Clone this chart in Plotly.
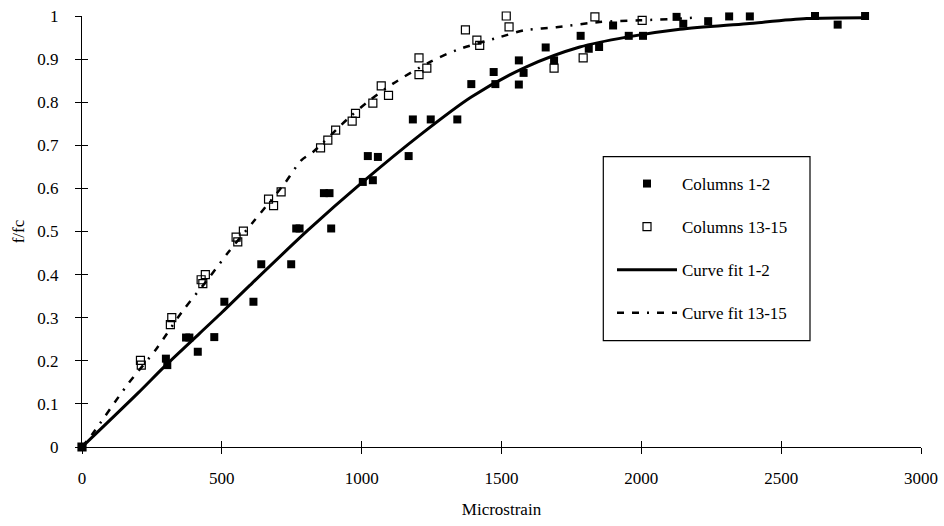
import plotly.graph_objects as go

# Columns 1-2 (filled squares)
c12_x = [0, 300, 305, 372, 384, 414, 473, 509, 613, 641, 748, 766, 778, 891, 865, 885,
         1004, 1040, 1022, 1058, 1168, 1183, 1247, 1342, 1392, 1472, 1478, 1562, 1562,
         1579, 1658, 1688, 1783, 1812, 1849, 1899, 1955, 2006, 2126, 2150, 2239, 2266,
         2314, 2388, 2442, 2475, 2621, 2702, 2800]
c12_y = [0, 0.205, 0.19, 0.254, 0.254, 0.221, 0.255, 0.337, 0.337, 0.424, 0.424, 0.507,
         0.507, 0.507, 0.589, 0.589, 0.615, 0.619, 0.675, 0.673, 0.675, 0.760, 0.760,
         0.760, 0.842, 0.870, 0.842, 0.897, 0.841, 0.868, 0.927, 0.897, 0.954, 0.924,
         0.928, 0.978, 0.954, 0.954, 0.998, 0.982, 0.988, 1.005, 0.999, 0.999, 1.005,
         1.005, 1.0, 0.98, 1.0]

# Columns 13-15 (open squares)
c1315_x = [0, 209, 212, 321, 316, 441, 426, 432, 551, 557, 577, 667, 685, 712, 853, 879,
           907, 966, 978, 1040, 1070, 1096, 1205, 1205, 1233, 1371, 1412, 1422, 1517,
           1527, 1688, 1729, 1792, 1834, 2003, 2203]
c1315_y = [0, 0.201, 0.190, 0.300, 0.284, 0.400, 0.388, 0.379, 0.487, 0.476, 0.501, 0.575,
           0.560, 0.592, 0.694, 0.712, 0.735, 0.756, 0.774, 0.798, 0.838, 0.816, 0.903,
           0.864, 0.879, 0.968, 0.944, 0.932, 1.0, 0.975, 0.879, 1.004, 0.903, 0.998,
           0.990, 1.002]

# Curve fit 1-2
fit12_x = [0, 200, 300, 500, 600, 808, 1004, 1207, 1392, 1589, 1780, 1947, 2138, 2376, 2591, 2800]
fit12_y = [0, 0.125, 0.19, 0.312, 0.375, 0.503, 0.615, 0.723, 0.812, 0.882, 0.928, 0.951,
           0.969, 0.982, 0.994, 0.996]

# Curve fit 13-15
fit1315_x = [0, 38, 163, 265, 357, 456, 521, 617, 724, 784, 825, 951, 1028, 1112, 1243,
             1344, 1494, 1583, 1696, 1851, 1995, 2138, 2200]
fit1315_y = [0, 0.031, 0.145, 0.227, 0.313, 0.394, 0.45, 0.526, 0.611, 0.665, 0.684, 0.762,
             0.804, 0.843, 0.893, 0.922, 0.951, 0.967, 0.974, 0.986, 0.99, 0.994, 0.997]

x_ticks = [0, 500, 1000, 1500, 2000, 2500, 3000]
y_ticks = [0, 0.1, 0.2, 0.3, 0.4, 0.5, 0.6, 0.7, 0.8, 0.9, 1]

FONT = "Liberation Serif"
FS = 17

L, R, T, B = 82, 23, 16, 79
PW, PH = 944 - L - R, 526 - T - B

fig = go.Figure()
fig.add_trace(go.Scatter(x=c12_x, y=c12_y, mode="markers", name="Columns 1-2",
                         marker=dict(symbol="square", size=8, color="black"),
                         cliponaxis=False, legendgroup="a"))
fig.add_trace(go.Scatter(x=c1315_x, y=c1315_y, mode="markers", name="Columns 13-15",
                         marker=dict(symbol="square-open", size=8, color="black",
                                     line=dict(width=1.2, color="black")),
                         cliponaxis=False, legendgroup="b"))
fig.add_trace(go.Scatter(x=fit12_x, y=fit12_y, mode="lines", name="Curve fit 1-2",
                         line=dict(color="black", width=3, shape="spline", smoothing=0.8),
                         cliponaxis=False, legendgroup="c"))
fig.add_trace(go.Scatter(x=fit1315_x, y=fit1315_y, mode="lines", name="Curve fit 13-15",
                         line=dict(color="black", width=2.5, shape="spline", smoothing=0.8,
                                   dash="7px,8px,7px,8px,2px,8px"),
                         cliponaxis=False, legendgroup="d"))

axis_common = dict(showgrid=False, zeroline=False, showline=True, linecolor="black",
                   linewidth=1, ticks="outside", ticklen=6, tickcolor="black", tickwidth=1,
                   automargin=False,
                   tickfont=dict(family=FONT, size=FS, color="black"))

fig.update_layout(
    width=944, height=526,
    margin=dict(l=L, r=R, t=T, b=B, autoexpand=False),
    paper_bgcolor="white", plot_bgcolor="white",
    font=dict(family=FONT, size=FS, color="black"),
    xaxis=dict(range=[0, 3000], tickvals=x_ticks, ticktext=[str(v) for v in x_ticks],
               title=dict(text="Microstrain", font=dict(family=FONT, size=FS), standoff=15),
               ticklabelstandoff=10, **axis_common),
    yaxis=dict(range=[0, 1], tickvals=y_ticks, ticktext=[("%g" % v) for v in y_ticks],
               title=dict(text="f/fc", font=dict(family=FONT, size=FS), standoff=8),
               ticklabelstandoff=13, **axis_common),
    xaxis2=dict(range=[0, 3000], overlaying="x", tickvals=x_ticks, showticklabels=False,
                ticks="inside", ticklen=6, tickcolor="black", showgrid=False, zeroline=False,
                showline=False, automargin=False),
    yaxis2=dict(range=[0, 1], overlaying="y", tickvals=y_ticks, showticklabels=False,
                ticks="inside", ticklen=6, tickcolor="black", showgrid=False, zeroline=False,
                showline=False, automargin=False),
    legend=dict(x=(612 - L) / PW, y=(T + PH - 166) / PH, xanchor="left", yanchor="top",
                bgcolor="rgba(0,0,0,0)", borderwidth=0, traceorder="grouped",
                itemwidth=60, tracegroupgap=18,
                font=dict(family=FONT, size=FS, color="black")),
    shapes=[dict(type="rect", xref="paper", yref="paper",
                 x0=(603.3 - L) / PW, x1=(810 - L) / PW,
                 y0=(T + PH - 340.7) / PH, y1=(T + PH - 156.7) / PH,
                 line=dict(color="black", width=1.2), fillcolor="white", layer="below")],
)
# Invisible trace to activate overlay axes for crossing ticks
fig.add_trace(go.Scatter(x=[None], y=[None], xaxis="x2", yaxis="y2", showlegend=False,
                         hoverinfo="skip"))

fig.write_html("out.html", config={"displayModeBar": False},
               post_script="document.body.style.margin='0';document.body.style.padding='0';")
